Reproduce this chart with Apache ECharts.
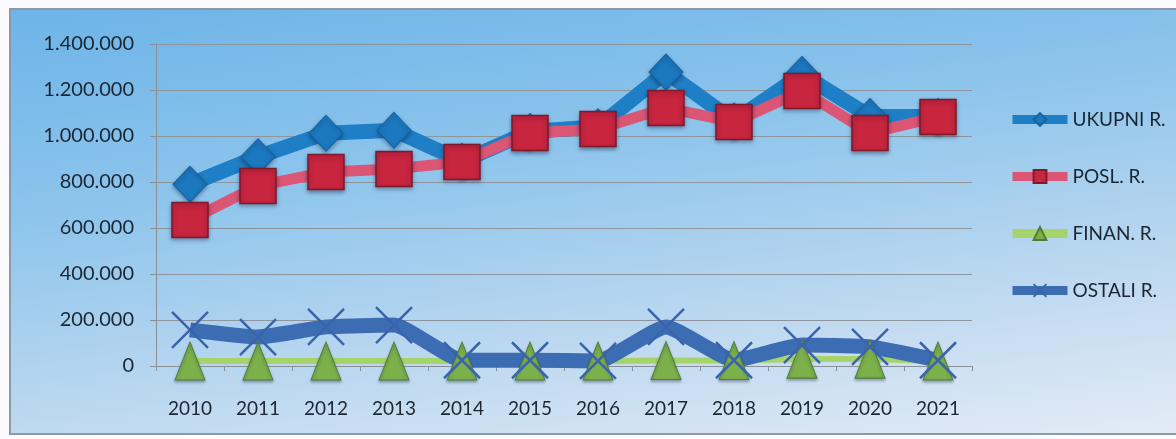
<!DOCTYPE html>
<html>
<head>
<meta charset="utf-8">
<script src="https://cdn.jsdelivr.net/npm/echarts@6/dist/echarts.min.js"></script>
<style>
    html, body { margin: 0; padding: 0; background: #fbfafc; }
    #frame {
        position: absolute; left: 9px; top: 8px; width: 1175px; height: 423px;
        border: 2px solid #8c99a6; border-right: none;
        background: linear-gradient(172deg, #6db4e8 0%, #8cc4ec 35%, #bcd8f0 70%, #e4ebf6 100%);
    }
    #app { position: absolute; left: 0; top: 0; width: 1176px; height: 439px; }
</style>
</head>
<body>
<div id="frame"></div>
<div id="app"></div>
<script>
    // godine
    var years = ['2010', '2011', '2012', '2013', '2014', '2015', '2016', '2017', '2018', '2019', '2020', '2021'];
    // vrijednosti po seriji (očitano s grafa)
    var ukupni = [790000, 910000, 1012000, 1025000, 890000, 1020000, 1040000, 1278000, 1065000, 1268000, 1085000, 1085000];
    var posl = [635000, 783000, 843000, 857000, 887000, 1013000, 1030000, 1122000, 1061000, 1196000, 1013000, 1083000];
    var finan = [22000, 22000, 22000, 22000, 22000, 22000, 22000, 24000, 24000, 30000, 30000, 22000];
    var ostali = [157000, 126000, 170000, 178000, 25000, 25000, 22000, 170000, 25000, 91000, 83000, 25000];
    var seriesNames = ['UKUPNI R.', 'POSL. R.', 'FINAN. R.', 'OSTALI R.'];

    var font = 'Lato, "Open Sans", sans-serif';
    var crossPath = 'path://M0,0L20,20M20,0L0,20';

    function fmt(v) {
        return String(v).replace(/\B(?=(\d{3})+(?!\d))/g, '.');
    }

    var myChart = echarts.init(document.getElementById('app'));
    var option = {
        backgroundColor: 'transparent',
        grid: { left: 156, right: 204, top: 44, bottom: 73 },
        legend: {
            orient: 'vertical',
            left: 1003,
            top: 105,
            itemWidth: 55,
            itemHeight: 16,
            itemGap: 38,
            lineStyle: { width: 9 },
            textStyle: { fontFamily: font, fontSize: 19, color: '#1b2633' },
            data: seriesNames
        },
        xAxis: {
            type: 'category',
            data: years,
            boundaryGap: true,
            axisLine: { lineStyle: { color: '#8a8f96', width: 1 } },
            axisTick: { show: true, length: 5, lineStyle: { color: '#8a8f96' } },
            axisLabel: { margin: 33, fontFamily: font, fontSize: 19, color: '#1b2633' }
        },
        yAxis: {
            type: 'value',
            min: 0,
            max: 1400000,
            interval: 200000,
            axisLine: { show: true, lineStyle: { color: '#8a8f96', width: 1 } },
            axisTick: { show: true, length: 6, lineStyle: { color: '#8a8f96' } },
            axisLabel: { margin: 22, fontFamily: font, fontSize: 20, color: '#1b2633', formatter: fmt },
            splitLine: { lineStyle: { color: '#8e959d', width: 1.2 } }
        },
        series: [
            {
                name: seriesNames[0],
                type: 'line',
                data: ukupni,
                symbol: 'diamond',
                symbolSize: [34, 36],
                lineStyle: { color: '#1f7fc6', width: 15 },
                itemStyle: { color: '#1c78bf', borderColor: '#15619e', borderWidth: 1, shadowBlur: 4, shadowColor: 'rgba(0,0,40,0.35)', shadowOffsetY: 2 }
            },
            {
                name: seriesNames[1],
                type: 'line',
                data: posl,
                symbol: 'rect',
                symbolSize: [36, 35],
                lineStyle: { color: '#db5574', width: 11 },
                itemStyle: { color: '#c8253f', borderColor: '#7e1a2a', borderWidth: 1.5, shadowBlur: 4, shadowColor: 'rgba(0,0,40,0.35)', shadowOffsetY: 2 }
            },
            {
                name: seriesNames[2],
                type: 'line',
                data: finan,
                symbol: 'triangle',
                symbolSize: [30, 38],
                lineStyle: { color: '#a6d36a', width: 6 },
                itemStyle: { color: '#7bb04b', borderColor: '#4f7d36', borderWidth: 1, shadowBlur: 3, shadowColor: 'rgba(0,0,40,0.3)', shadowOffsetY: 2 }
            },
            {
                name: seriesNames[3],
                type: 'line',
                data: ostali,
                symbol: crossPath,
                symbolSize: 36,
                smooth: 0.15,
                lineStyle: { color: '#3c6db3', width: 15 },
                itemStyle: { color: 'rgba(0,0,0,0)', borderColor: '#3a63ab', borderWidth: 2.5 }
            }
        ]
    };
    myChart.setOption(option);
</script>
</body>
</html>
